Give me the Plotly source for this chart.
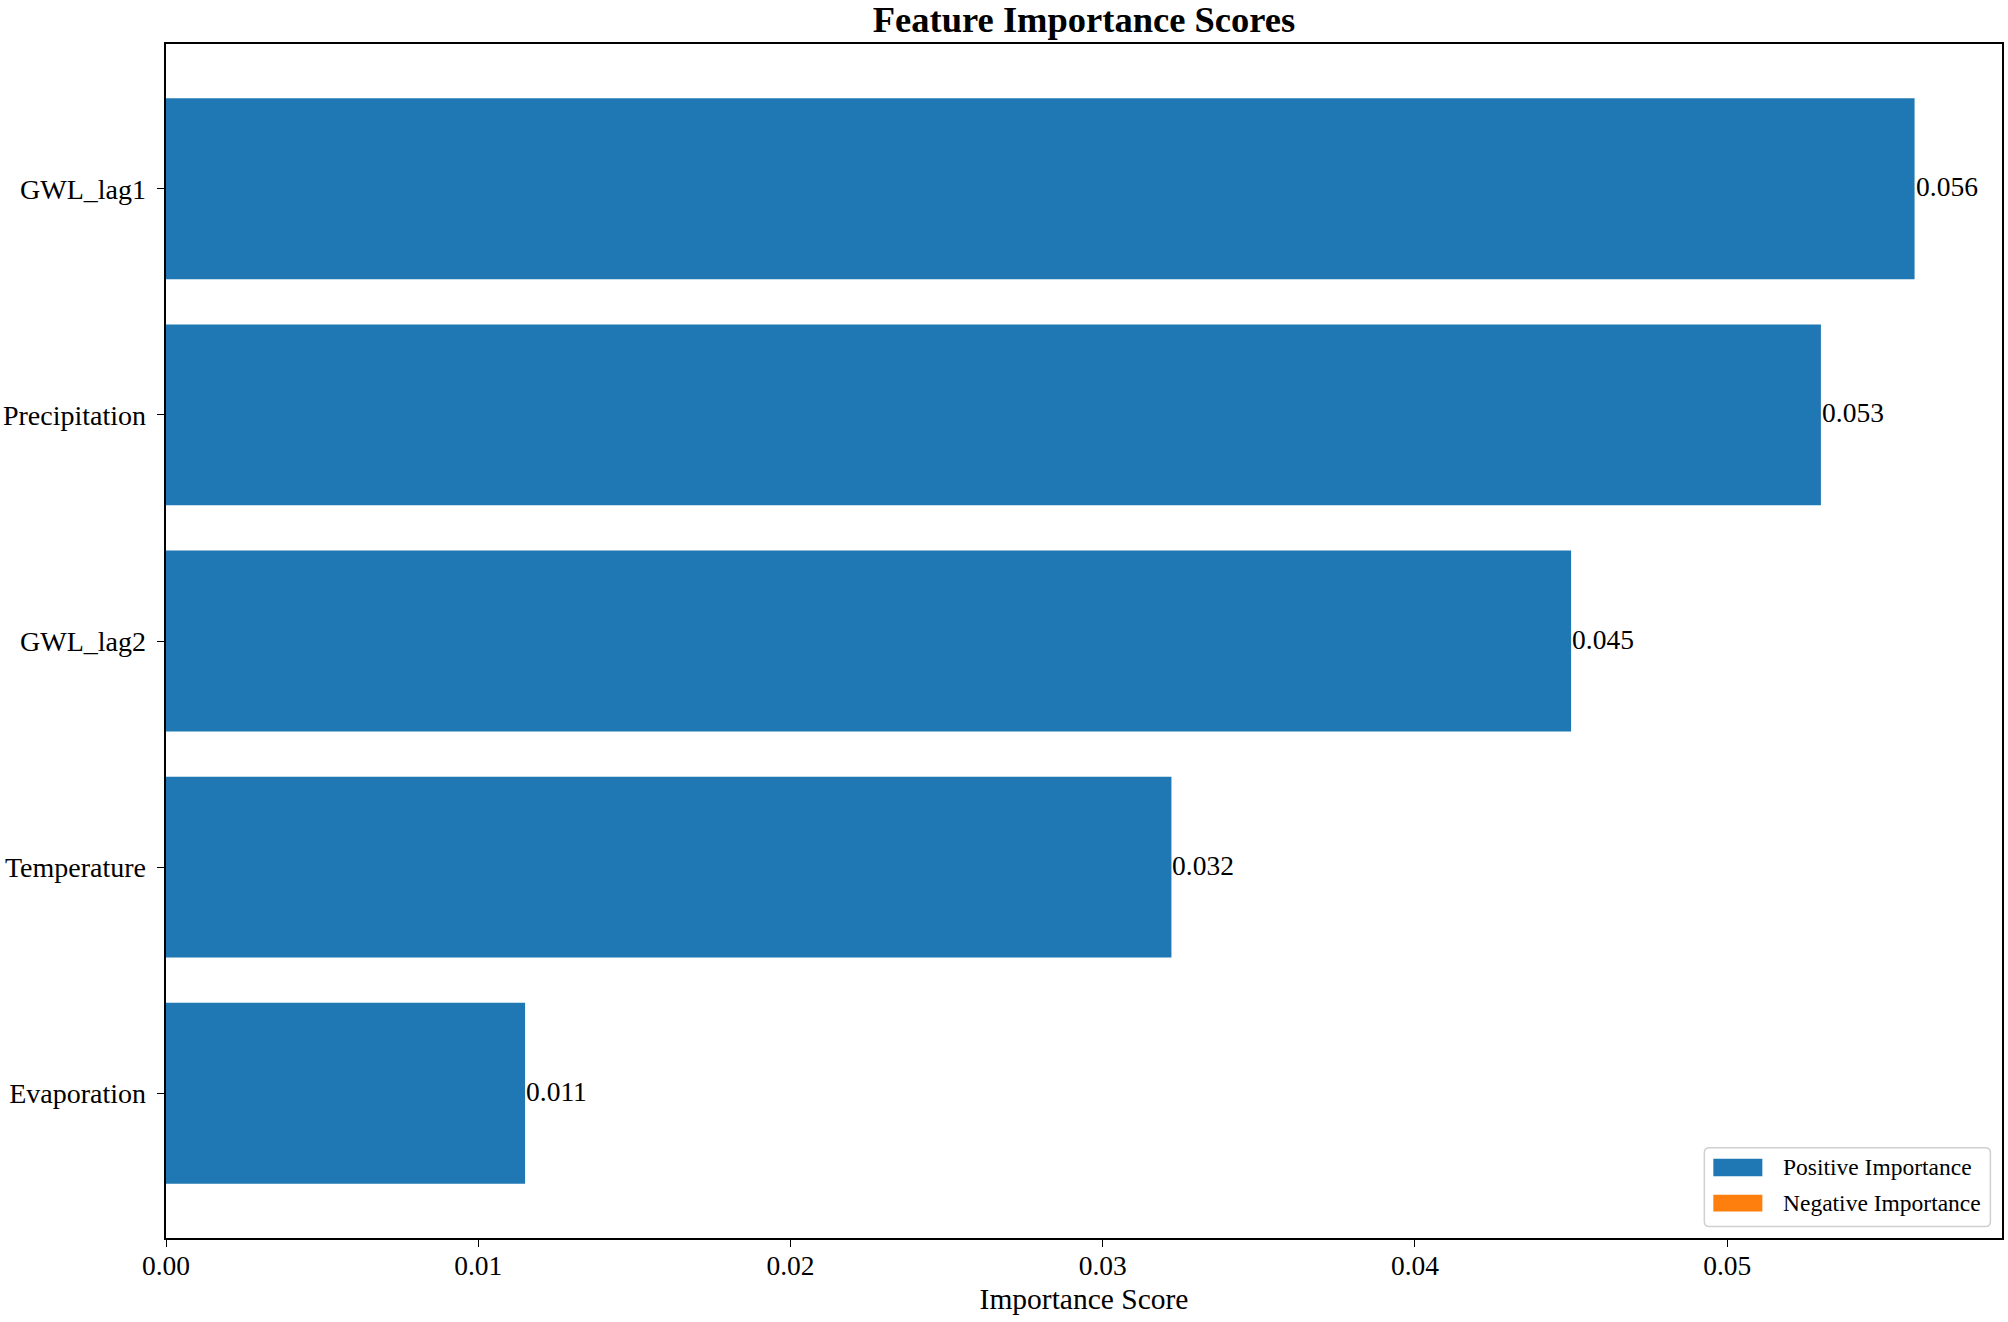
import re
import plotly.graph_objects as go

features = ["GWL_lag1", "Precipitation", "GWL_lag2", "Temperature", "Evaporation"]
scores = [0.0560, 0.0530, 0.0450, 0.0322, 0.0115]
x_ticks = [0.00, 0.01, 0.02, 0.03, 0.04, 0.05]
x_tick_labels = ["0.00", "0.01", "0.02", "0.03", "0.04", "0.05"]
legend_labels = ["Positive Importance", "Negative Importance"]
pos_color = "#1f77b4"
neg_color = "#ff7f0e"

FONT = "Liberation Serif, Times New Roman, serif"
W, H = 2008, 1322
L, R, T, B = 166, 6.4, 43.5, 83.6

# bottom-to-top order like matplotlib barh (first item on top)
y_pos = list(range(len(features)))[::-1]

fig = go.Figure()
fig.add_trace(go.Bar(
    x=scores, y=y_pos, orientation="h", width=0.8,
    marker=dict(color=pos_color, line=dict(width=0)),
    showlegend=False, hoverinfo="x+y",
))

for v, yp in zip(scores, y_pos):
    fig.add_annotation(x=v, y=yp, xref="x", yref="y", text=f"{v:.3f}",
                       showarrow=False, xanchor="left", yanchor="middle",
                       xshift=-1, yshift=2, font=dict(family=FONT, size=27.5, color="black"))

xmax = max(scores) * 1.05
fig.update_layout(
    width=W, height=H,
    margin=dict(l=L, r=R, t=T, b=B, pad=0, autoexpand=False),
    paper_bgcolor="white", plot_bgcolor="white",
    font=dict(family=FONT, color="black"),
    title=dict(text="<b>Feature Importance Scores</b>", x=0.5, xref="paper",
               y=1 - 19.5 / H, yref="container", yanchor="middle", xanchor="center",
               font=dict(family=FONT, size=36.5, color="black")),
    bargap=0.2,
)
fig.update_xaxes(range=[0, xmax], tickvals=x_ticks, ticktext=x_tick_labels,
                 showgrid=False, zeroline=False, showline=True, linecolor="black",
                 linewidth=1.8, mirror=True, ticks="outside", ticklen=7.5, tickwidth=1.3,
                 tickcolor="black", tickfont=dict(family=FONT, size=27.5),
                 ticklabelstandoff=-5, automargin=False,
                 title=dict(text="Importance Score", font=dict(family=FONT, size=29.5), standoff=8))
fig.update_yaxes(range=[-0.64, len(features) - 1 + 0.64], tickvals=y_pos, ticktext=features,
                 showgrid=False, zeroline=False, showline=True, linecolor="black",
                 linewidth=1.8, mirror=True, ticks="outside", ticklen=7.5, tickwidth=1.3,
                 tickcolor="black", tickfont=dict(family=FONT, size=28),
                 ticklabelstandoff=5, automargin=False)

# legend (matplotlib-style box in the lower right corner)
def px_x(px):
    return (px - L) / (W - L - R)

def px_y(py):
    return 1 - (py - T) / (H - T - B)

bx0, bx1, by0, by1 = 1704, 1990, 1148, 1227
rr = 5
path = (f"M {bx0+rr},{by0} L {bx1-rr},{by0} Q {bx1},{by0} {bx1},{by0+rr} "
        f"L {bx1},{by1-rr} Q {bx1},{by1} {bx1-rr},{by1} L {bx0+rr},{by1} "
        f"Q {bx0},{by1} {bx0},{by1-rr} L {bx0},{by0+rr} Q {bx0},{by0} {bx0+rr},{by0} Z")

def conv(m):
    xv, yv = float(m.group(1)), float(m.group(2))
    return f"{px_x(xv):.5f},{px_y(yv):.5f}"

path_paper = re.sub(r"([\d.]+),([\d.]+)", conv, path)
fig.add_shape(type="path", path=path_paper, xref="paper", yref="paper",
              line=dict(color="#d0d0d0", width=1.5), fillcolor="rgba(255,255,255,0.85)")

rows = [(1159, 1176.5), (1195, 1212)]
for (y0, y1), lab, col in zip(rows, legend_labels, [pos_color, neg_color]):
    fig.add_shape(type="rect", xref="paper", yref="paper",
                  x0=px_x(1713), x1=px_x(1762), y0=px_y(y1), y1=px_y(y0),
                  fillcolor=col, line=dict(width=0))
    fig.add_annotation(x=px_x(1781), y=px_y((y0 + y1) / 2), xref="paper", yref="paper",
                       text=lab, showarrow=False, xanchor="left", yanchor="middle",
                       font=dict(family=FONT, size=23.5, color="black"))

fig.write_html("out.html", config={"displayModeBar": False},
               post_script="document.body.style.margin='0px';document.body.style.overflow='hidden';")
